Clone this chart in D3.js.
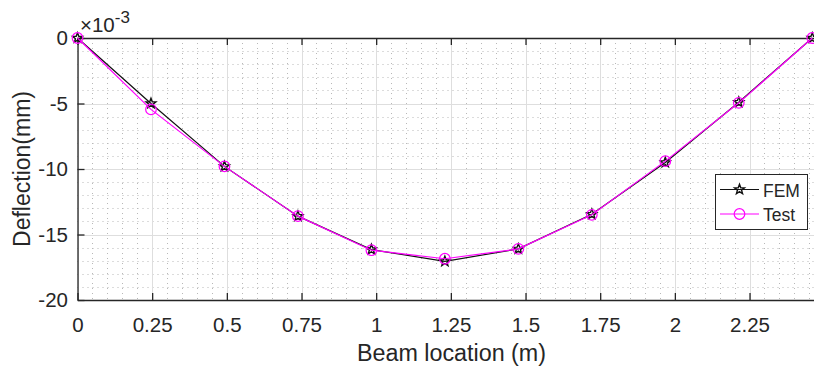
<!DOCTYPE html>
<html>
<head>
<meta charset="utf-8">
<script src="https://cdn.jsdelivr.net/npm/d3@7"></script>
<style>
  html, body { margin: 0; padding: 0; background: #fff; }
  svg { display: block; font-family: "Liberation Sans", Arial, sans-serif; }
</style>
</head>
<body>
<svg id="chart" width="814" height="369"></svg>
<script>
// ---- data ----
const positions = [0, 0.246, 0.492, 0.738, 0.984, 1.23, 1.476, 1.722, 1.968, 2.214, 2.46];
const femValues = [0, -5.0, -9.8, -13.6, -16.15, -17.05, -16.1, -13.45, -9.5, -4.9, 0];
const testValues = [0, -5.45, -9.8, -13.6, -16.2, -16.85, -16.1, -13.5, -9.4, -4.95, 0];
const xTicks = [0, 0.25, 0.5, 0.75, 1, 1.25, 1.5, 1.75, 2, 2.25];
const xTickLabels = ["0", "0.25", "0.5", "0.75", "1", "1.25", "1.5", "1.75", "2", "2.25"];
const yTicks = [0, -5, -10, -15, -20];
const yTickLabels = ["0", "-5", "-10", "-15", "-20"];
const seriesNames = ["FEM", "Test"];

(function () {
// ---- layout ----
const pLeft = 77.5, pTop = 38, pBottom = 300;
const svg = d3.select("#chart");
const x = d3.scaleLinear().domain([0, 2.5]).range([pLeft, pLeft + 746.7]);
const y = d3.scaleLinear().domain([-20, 0]).range([pBottom, pTop]);
const pRight = x(2.5);
const axisColor = "#262626";
const fontFam = "'Liberation Sans', Arial, sans-serif";

// minor grid
const xMinor = d3.range(0, 2.5001, 0.05).filter(v => Math.abs(v / 0.25 - Math.round(v / 0.25)) > 1e-6);
const yMinor = d3.range(-20, 0.001, 1).filter(v => v % 5 !== 0);
const g = svg.append("g");
g.selectAll(".xminor").data(xMinor).enter().append("line")
  .attr("x1", d => Math.round(x(d)) + 0.5).attr("x2", d => Math.round(x(d)) + 0.5)
  .attr("y1", pTop).attr("y2", pBottom)
  .attr("stroke", "#b8b8b8").attr("stroke-width", 1).attr("stroke-dasharray", "1,4");
g.selectAll(".yminor").data(yMinor).enter().append("line")
  .attr("y1", d => Math.round(y(d)) + 0.5).attr("y2", d => Math.round(y(d)) + 0.5)
  .attr("x1", pLeft).attr("x2", pRight)
  .attr("stroke", "#b8b8b8").attr("stroke-width", 1).attr("stroke-dasharray", "1,4");
// major grid
g.selectAll(".xmajor").data(xTicks).enter().append("line")
  .attr("x1", d => Math.round(x(d)) + 0.5).attr("x2", d => Math.round(x(d)) + 0.5)
  .attr("y1", pTop).attr("y2", pBottom)
  .attr("stroke", "#dedede").attr("stroke-width", 1);
g.selectAll(".ymajor").data(yTicks).enter().append("line")
  .attr("y1", d => Math.round(y(d)) + 0.5).attr("y2", d => Math.round(y(d)) + 0.5)
  .attr("x1", pLeft).attr("x2", pRight)
  .attr("stroke", "#dedede").attr("stroke-width", 1);

// axes
const xAxisB = d3.axisBottom(x).tickValues(xTicks).tickFormat((d, i) => xTickLabels[i]).tickSizeInner(-7).tickSizeOuter(0).tickPadding(17);
const xAxisT = d3.axisTop(x).tickValues(xTicks).tickFormat("").tickSizeInner(-7).tickSizeOuter(0);
const yAxisL = d3.axisLeft(y).tickValues(yTicks).tickFormat((d, i) => yTickLabels[i]).tickSizeInner(-7).tickSizeOuter(0).tickPadding(9.5);
const gxb = svg.append("g").attr("transform", `translate(0,${pBottom})`).call(xAxisB);
const gxt = svg.append("g").attr("transform", `translate(0,${pTop})`).call(xAxisT);
const gyl = svg.append("g").attr("transform", `translate(${pLeft},0)`).call(yAxisL);
[gxb, gxt, gyl].forEach(ax => {
  ax.select(".domain").attr("stroke", axisColor).attr("stroke-width", 1.3);
  ax.selectAll(".tick line").attr("stroke", axisColor).attr("stroke-width", 1.3);
  ax.selectAll(".tick text").attr("fill", axisColor).style("font-size", "20.5px").style("font-family", fontFam);
});
gxb.selectAll(".tick text").attr("dy", "0.71em");
svg.append("line").attr("x1", pRight).attr("x2", pRight).attr("y1", pTop).attr("y2", pBottom)
  .attr("stroke", axisColor).attr("stroke-width", 1.3);

// exponent label
const ex = svg.append("text").attr("x", 80).attr("y", 31.5).attr("fill", axisColor)
  .style("font-size", "20.5px").style("font-family", fontFam);
ex.append("tspan").text("×10");
ex.append("tspan").attr("dy", -9).style("font-size", "17px").text("-3");

// axis titles
svg.append("text").attr("x", 451.5).attr("y", 361).attr("text-anchor", "middle")
  .attr("fill", axisColor).style("font-size", "23.3px").style("font-family", fontFam).text("Beam location (m)");
svg.append("text").attr("transform", `translate(30,${(pTop + pBottom) / 2}) rotate(-90)`)
  .attr("text-anchor", "middle").attr("fill", axisColor).style("font-size", "23px").style("font-family", fontFam).text("Deflection(mm)");

// markers
function starPath(r) {
  const pts = [];
  const ri = r * 0.42;
  for (let k = 0; k < 10; k++) {
    const a = -Math.PI / 2 + k * Math.PI / 5;
    const rr = k % 2 === 0 ? r : ri;
    pts.push([rr * Math.cos(a), rr * Math.sin(a)]);
  }
  return "M" + pts.map(p => p[0].toFixed(2) + "," + p[1].toFixed(2)).join("L") + "Z";
}
const line = d3.line().x(d => x(d[0])).y(d => y(d[1]));
const femData = positions.map((p, i) => [p, femValues[i]]);
const testData = positions.map((p, i) => [p, testValues[i]]);

svg.append("path").datum(femData).attr("d", line).attr("fill", "none").attr("stroke", "#111").attr("stroke-width", 1.2);
svg.selectAll(".fem").data(femData).enter().append("path")
  .attr("transform", d => `translate(${x(d[0])},${y(d[1])})`)
  .attr("d", starPath(5.2)).attr("fill", "none").attr("stroke", "#111").attr("stroke-width", 1.4);

svg.append("path").datum(testData).attr("d", line).attr("fill", "none").attr("stroke", "#ff00ff").attr("stroke-width", 1.2);
svg.selectAll(".test").data(testData).enter().append("circle")
  .attr("cx", d => x(d[0])).attr("cy", d => y(d[1])).attr("r", 5.3)
  .attr("fill", "none").attr("stroke", "#ff00ff").attr("stroke-width", 1.2);

// legend
const lg = svg.append("g");
lg.append("rect").attr("x", 715.5).attr("y", 174.5).attr("width", 92).attr("height", 55)
  .attr("fill", "#fff").attr("stroke", axisColor).attr("stroke-width", 1);
const legendRows = [
  { name: seriesNames[0], color: "#111", y: 189.5, marker: "star" },
  { name: seriesNames[1], color: "#ff00ff", y: 214, marker: "circle" }
];
legendRows.forEach(r => {
  lg.append("line").attr("x1", 720).attr("x2", 759).attr("y1", r.y).attr("y2", r.y)
    .attr("stroke", r.color).attr("stroke-width", 1.2);
  if (r.marker === "star") {
    lg.append("path").attr("transform", `translate(739.5,${r.y})`).attr("d", starPath(5.2))
      .attr("fill", "none").attr("stroke", r.color).attr("stroke-width", 1.4);
  } else {
    lg.append("circle").attr("cx", 739.5).attr("cy", r.y).attr("r", 5.3)
      .attr("fill", "none").attr("stroke", r.color).attr("stroke-width", 1.2);
  }
  lg.append("text").attr("x", 763).attr("y", r.y + 7).attr("fill", axisColor)
    .style("font-size", "17.5px").style("font-family", fontFam).text(r.name);
});
})();
</script>
</body>
</html>
